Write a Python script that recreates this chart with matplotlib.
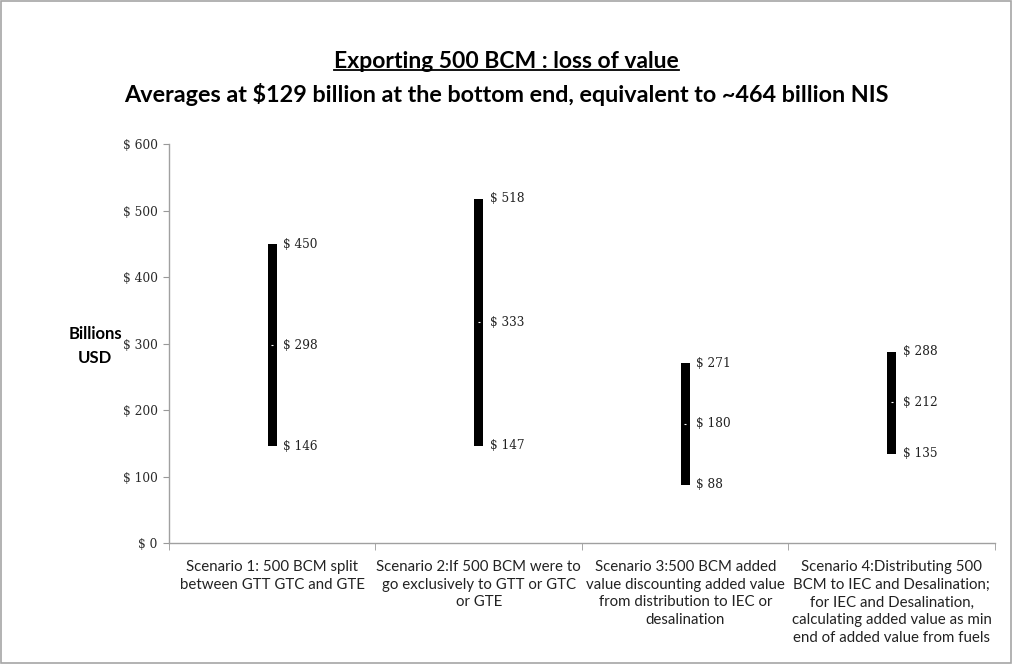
import matplotlib.pyplot as plt
from matplotlib.patches import Rectangle
from matplotlib.ticker import FixedLocator, NullFormatter

# Scenario ranges, billions USD
categories = [
    "Scenario 1: 500 BCM split\nbetween GTT GTC and GTE",
    "Scenario 2:If 500 BCM were to\ngo exclusively to GTT or GTC\nor GTE",
    "Scenario 3:500 BCM added\nvalue discounting added value\nfrom distribution to IEC or\ndesalination",
    "Scenario 4:Distributing 500\nBCM to IEC and Desalination;\nfor IEC and Desalination,\ncalculating added value as min\nend of added value from fuels",
]
high = [450, 518, 271, 288]
mid = [298, 333, 180, 212]
low = [146, 147, 88, 135]
yticks = [0, 100, 200, 300, 400, 500, 600]

sans = ["Lato", "DejaVu Sans"]
serif = ["DejaVu Serif"]

fig = plt.figure(figsize=(10.13, 6.64), dpi=100)
fig.patch.set_facecolor("white")
fig.add_artist(Rectangle((0.001, 0.002), 0.997, 0.996, transform=fig.transFigure,
                         fill=False, edgecolor="#a6a6a6", linewidth=1.2))

ax = fig.add_axes([0.1668, 0.1815, 0.8154, 0.601])
x = list(range(len(categories)))
heights = [h - l for h, l in zip(high, low)]
ax.bar(x, heights, bottom=low, width=0.045, color="black", zorder=3)
ax.plot(x, mid, linestyle="none", marker="_", color="white", markersize=2,
        markeredgewidth=0.8, zorder=4)

for xi, h, m, l in zip(x, high, mid, low):
    for v in (h, m, l):
        ax.annotate(f"$ {v}", (xi, v), xytext=(8, 0), textcoords="offset points",
                    ha="left", va="center", fontsize=8.7, family=serif,
                    color="#222222")

ax.set_xlim(-0.5, 3.5)
ax.set_ylim(0, 600)
ax.set_yticks(yticks)
ax.set_yticklabels([f"$ {v}" for v in yticks], family=serif, fontsize=8.8,
                   color="#2a2a2a")
ax.tick_params(axis="y", length=4, color="#999999", pad=4)

ax.set_xticks(x)
ax.set_xticklabels(categories, family=sans, fontsize=10.8, color="#222222",
                   linespacing=1.33, va="top")
ax.tick_params(axis="x", which="major", length=0, pad=12)
ax.xaxis.set_minor_locator(FixedLocator([-0.5, 0.5, 1.5, 2.5, 3.5]))
ax.xaxis.set_minor_formatter(NullFormatter())
ax.tick_params(axis="x", which="minor", length=5, color="#999999")

for s in ("top", "right"):
    ax.spines[s].set_visible(False)
for s in ("left", "bottom"):
    ax.spines[s].set_color("#a0a0a0")
    ax.spines[s].set_linewidth(1.0)

fig.text(0.094, 0.479, "Billions\nUSD", ha="center", va="center",
         family=sans, fontsize=12, fontweight="bold", linespacing=1.6)

title = fig.text(0.5, 0.908, "Exporting 500 BCM : loss of value", ha="center",
                 va="center", family=sans, fontsize=16.5, fontweight="bold")
fig.text(0.5, 0.858, "Averages at $129 billion at the bottom end, equivalent to ~464 billion NIS",
         ha="center", va="center", family=sans, fontsize=16.8, fontweight="bold")

# underline the main heading to the width of its text
fig.canvas.draw()
bb = title.get_window_extent().transformed(fig.transFigure.inverted())
fig.add_artist(plt.Line2D([bb.x0, bb.x1], [bb.y0 + 0.002, bb.y0 + 0.002],
                          color="black", linewidth=1.3,
                          transform=fig.transFigure))

fig.savefig("out.png", dpi=100)
